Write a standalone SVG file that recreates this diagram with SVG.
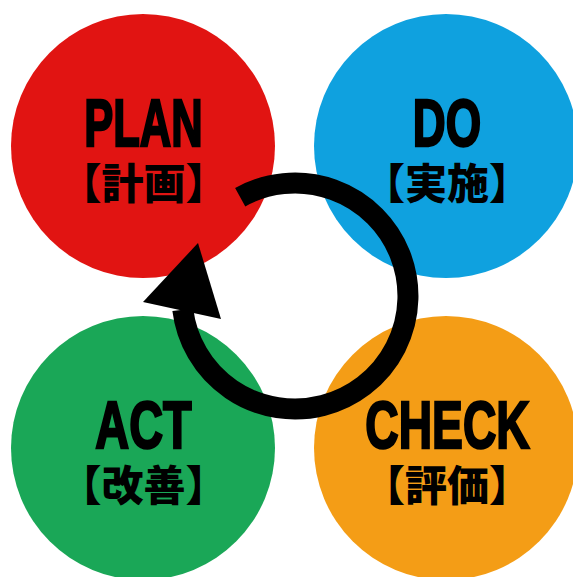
<svg xmlns="http://www.w3.org/2000/svg" width="573" height="577" viewBox="0 0 573 577">
<style>
.en{font-family:"Liberation Sans",Arial,sans-serif;font-weight:bold;font-size:67px;fill:#000;stroke:#000;stroke-width:2.5px;stroke-linejoin:miter;text-anchor:middle}
.ja{font-family:"Noto Sans CJK JP","Noto Sans CJK SC",sans-serif;font-weight:900;font-size:42px;fill:#000;text-anchor:middle}
</style>
<rect width="573" height="577" fill="#fff"/>
<g id="plan">
<circle cx="143" cy="146" r="132" fill="#e11412"/>
<text class="en" transform="translate(143.5,146) scale(0.65,1)">PLAN</text>
<text class="ja" x="143.5" y="199">【計画】</text>
</g>
<g id="do">
<circle cx="446" cy="146" r="132" fill="#0fa1df"/>
<text class="en" transform="translate(447,146) scale(0.68,1)">DO</text>
<text class="ja" x="447" y="199">【実施】</text>
</g>
<g id="act">
<circle cx="143" cy="448" r="132" fill="#1aa757"/>
<text class="en" transform="translate(143.5,448) scale(0.70,1)">ACT</text>
<text class="ja" x="143.5" y="501">【改善】</text>
</g>
<g id="check">
<circle cx="446" cy="448" r="132" fill="#f49d16"/>
<text class="en" transform="translate(447.5,448) scale(0.69,1)">CHECK</text>
<text class="ja" x="447" y="501">【評価】</text>
</g>
<g id="connectors">
<path d="M240.2,197.2 A113,113 0 1 1 182.8,309.8" fill="none" stroke="#000" stroke-width="21"/>
<polygon points="198,243 143,302 221,319" fill="#000"/>
</g>
</svg>
